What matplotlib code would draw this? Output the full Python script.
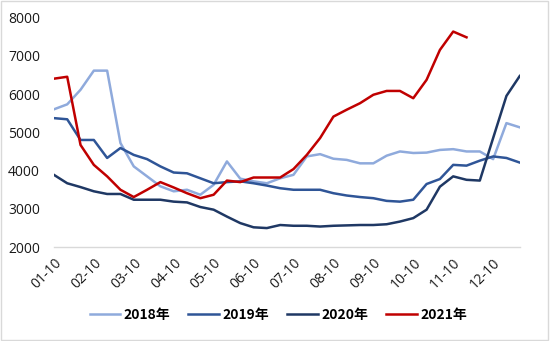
import matplotlib.pyplot as plt
from matplotlib.patches import Rectangle

# categories: 10th / 20th / 30th of each month, label every 3rd
months = ['%02d' % m for m in range(1, 13)]
categories = [f'{m}-{d}' for m in months for d in ('10', '20', '30')]
tick_labels = [f'{m}-10' for m in months]

y2018 = [5600, 5730, 6110, 6610, 6610, 4720, 4110, 3850, 3590, 3460,
         3500, 3370, 3630, 4240, 3790, 3720, 3670, 3800, 3890, 4370,
         4430, 4310, 4280, 4190, 4190, 4390, 4500, 4460, 4470, 4540,
         4560, 4500, 4500, 4300, 5240, 5130]
y2019 = [5370, 5340, 4800, 4800, 4330, 4590, 4410, 4300, 4110, 3950,
         3930, 3800, 3670, 3700, 3720, 3670, 3610, 3540, 3500, 3500,
         3500, 3410, 3350, 3310, 3280, 3210, 3190, 3240, 3650, 3780,
         4150, 4130, 4260, 4370, 4330, 4210]
y2020 = [3890, 3670, 3570, 3460, 3390, 3390, 3240, 3240, 3240, 3190,
         3170, 3050, 2980, 2800, 2630, 2520, 2500, 2580, 2560, 2560,
         2540, 2560, 2570, 2580, 2580, 2600, 2670, 2760, 2980, 3580,
         3850, 3760, 3740, 4850, 5950, 6470]
y2021 = [6400, 6450, 4670, 4150, 3850, 3500, 3310, 3500, 3700, 3560,
         3410, 3280, 3370, 3740, 3700, 3820, 3820, 3820, 4040, 4410,
         4850, 5410, 5590, 5760, 5980, 6080, 6080, 5890, 6370, 7150,
         7630, 7480]

series = [('2018年', y2018, '#8FAADC'),
          ('2019年', y2019, '#2F5597'),
          ('2020年', y2020, '#1F3864'),
          ('2021年', y2021, '#C00000')]

plt.rcParams['font.family'] = ['Open Sans', 'DejaVu Sans']

fig = plt.figure(figsize=(5.5, 3.41), dpi=100)
ax = fig.add_axes([0.098, 0.275, 0.847, 0.674])

for name, vals, color in series:
    ax.plot(categories[:len(vals)], vals, color=color, lw=1.8, label=name)

ax.set_xlim(0, len(categories) - 1)
ax.set_ylim(2000, 8000)
ax.set_yticks(range(2000, 8001, 1000))
ax.set_xticks(categories[::3])
ax.set_xticklabels(tick_labels, rotation=45, ha='right', va='top',
                   rotation_mode='anchor')
ax.tick_params(axis='both', length=0, labelsize=10, colors='#1a1a1a')
ax.tick_params(axis='x', pad=6)
ax.tick_params(axis='y', pad=10)
for side in ('top', 'right', 'left'):
    ax.spines[side].set_visible(False)
ax.spines['bottom'].set_color('#D9D9D9')
ax.spines['bottom'].set_linewidth(1)

leg = fig.legend(loc='center', bbox_to_anchor=(0.506, 0.077), ncol=4,
                 frameon=False, handlelength=2.2, columnspacing=1.3,
                 handletextpad=0.25,
                 prop={'family': ['Noto Sans CJK SC', 'DejaVu Sans'],
                       'weight': 'bold', 'size': 10})

fig.patches.append(Rectangle((0.002, 0.003), 0.995, 0.993, transform=fig.transFigure,
                             fill=False, edgecolor='#D9D9D9', lw=1))

fig.savefig('out.png', dpi=100)
